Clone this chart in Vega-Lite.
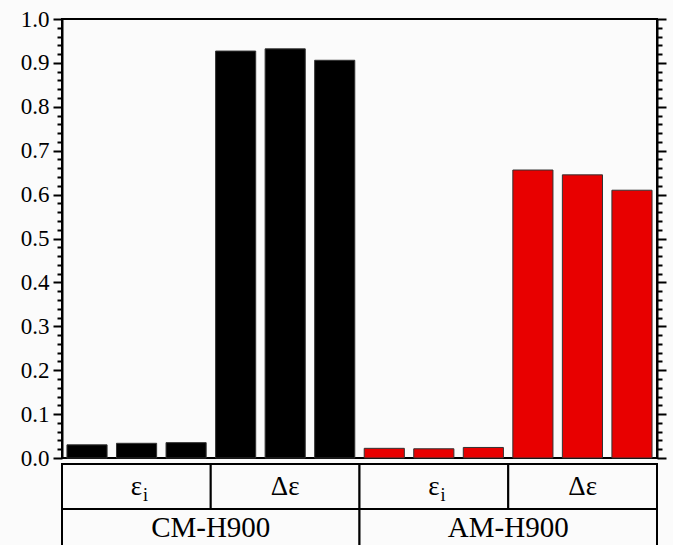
{
  "$schema": "https://vega.github.io/schema/vega-lite/v6.json",
  "background": "#fbfbfb",
  "padding": {"left": 19, "top": 7, "right": 6, "bottom": 0},
  "datasets": {
    "bars": [
      {"id": 1, "sample": "CM-H900", "param": "εi", "value": 0.030},
      {"id": 2, "sample": "CM-H900", "param": "εi", "value": 0.0335},
      {"id": 3, "sample": "CM-H900", "param": "εi", "value": 0.035},
      {"id": 4, "sample": "CM-H900", "param": "Δε", "value": 0.927},
      {"id": 5, "sample": "CM-H900", "param": "Δε", "value": 0.932},
      {"id": 6, "sample": "CM-H900", "param": "Δε", "value": 0.906},
      {"id": 7, "sample": "AM-H900", "param": "εi", "value": 0.022},
      {"id": 8, "sample": "AM-H900", "param": "εi", "value": 0.021},
      {"id": 9, "sample": "AM-H900", "param": "εi", "value": 0.024},
      {"id": 10, "sample": "AM-H900", "param": "Δε", "value": 0.656},
      {"id": 11, "sample": "AM-H900", "param": "Δε", "value": 0.645},
      {"id": 12, "sample": "AM-H900", "param": "Δε", "value": 0.610}
    ],
    "cells": [
      {"cell": 1, "main": "ε", "sub": "i"},
      {"cell": 2, "main": "Δε", "sub": ""},
      {"cell": 3, "main": "ε", "sub": "i"},
      {"cell": 4, "main": "Δε", "sub": ""}
    ],
    "groups": [
      {"grp": 1, "label": "CM-H900"},
      {"grp": 2, "label": "AM-H900"}
    ]
  },
  "spacing": 6,
  "bounds": "flush",
  "vconcat": [
    {
      "width": 595,
      "height": 439,
      "data": {"name": "bars"},
      "view": {"stroke": "black", "strokeWidth": 2},
      "layer": [
        {
          "mark": {"type": "bar", "stroke": "#333333", "strokeWidth": 1},
          "encoding": {
            "x": {"field": "id", "type": "ordinal", "axis": null, "scale": {"paddingInner": 0.19, "paddingOuter": 0.1}},
            "y": {
              "field": "value", "type": "quantitative",
              "scale": {"domain": [0, 1], "nice": false},
              "axis": {
                "orient": "left",
                "values": [0,0.02,0.04,0.06,0.08,0.1,0.12,0.14,0.16,0.18,0.2,0.22,0.24,0.26,0.28,0.3,0.32,0.34,0.36,0.38,0.4,0.42,0.44,0.46,0.48,0.5,0.52,0.54,0.56,0.58,0.6,0.62,0.64,0.66,0.68,0.7,0.72,0.74,0.76,0.78,0.8,0.82,0.84,0.86,0.88,0.9,0.92,0.94,0.96,0.98,1],
                "labelExpr": "abs(datum.value*10-round(datum.value*10))<0.001 ? format(datum.value,'.1f') : ''",
                "tickSize": {"condition": {"test": "abs(datum.value*10-round(datum.value*10))<0.001", "value": 9}, "value": 5},
                "labelFont": "Liberation Serif", "labelFontSize": 23, "labelColor": "black", "labelPadding": 4,
                "labelOverlap": false,
                "domainColor": "black", "domainWidth": 2, "tickColor": "black", "tickWidth": 2,
                "grid": false, "title": null
              }
            },
            "color": {"field": "sample", "type": "nominal", "scale": {"domain": ["CM-H900", "AM-H900"], "range": ["#000000", "#e80000"]}, "legend": null}
          }
        },
        {
          "mark": {"type": "tick", "opacity": 0},
          "encoding": {
            "x": {"field": "id", "type": "ordinal", "axis": null},
            "y": {
              "field": "value", "type": "quantitative",
              "axis": {
                "orient": "right",
                "values": [0,0.02,0.04,0.06,0.08,0.1,0.12,0.14,0.16,0.18,0.2,0.22,0.24,0.26,0.28,0.3,0.32,0.34,0.36,0.38,0.4,0.42,0.44,0.46,0.48,0.5,0.52,0.54,0.56,0.58,0.6,0.62,0.64,0.66,0.68,0.7,0.72,0.74,0.76,0.78,0.8,0.82,0.84,0.86,0.88,0.9,0.92,0.94,0.96,0.98,1],
                "labels": false,
                "tickSize": {"condition": {"test": "abs(datum.value*10-round(datum.value*10))<0.001", "value": 9}, "value": 5},
                "domainColor": "black", "domainWidth": 2, "tickColor": "black", "tickWidth": 2,
                "grid": false, "title": null
              }
            }
          }
        }
      ],
      "resolve": {"axis": {"y": "independent"}}
    },
    {
      "spacing": 0,
      "bounds": "flush",
      "vconcat": [
        {
          "width": 595,
          "height": 45,
          "data": {"name": "cells"},
          "layer": [
            {
              "mark": {"type": "rect", "fill": "#fbfbfb", "stroke": "black", "strokeWidth": 2},
              "encoding": {"x": {"field": "cell", "type": "ordinal", "axis": null, "scale": {"paddingInner": 0, "paddingOuter": 0}}}
            },
            {
              "mark": {"type": "text", "font": "Liberation Serif", "fontSize": 27, "baseline": "middle", "color": "black", "dy": 0},
              "encoding": {"x": {"field": "cell", "type": "ordinal"}, "text": {"field": "main"}}
            },
            {
              "mark": {"type": "text", "font": "Liberation Serif", "fontSize": 18, "baseline": "middle", "color": "black", "dx": 9, "dy": 9},
              "encoding": {"x": {"field": "cell", "type": "ordinal"}, "text": {"field": "sub"}}
            }
          ]
        },
        {
          "width": 595,
          "height": 45,
          "data": {"name": "groups"},
          "layer": [
            {
              "mark": {"type": "rect", "fill": "#fbfbfb", "stroke": "black", "strokeWidth": 2},
              "encoding": {"x": {"field": "grp", "type": "ordinal", "axis": null, "scale": {"paddingInner": 0, "paddingOuter": 0}}}
            },
            {
              "mark": {"type": "text", "font": "Liberation Serif", "fontSize": 29, "baseline": "middle", "color": "black", "dy": -4},
              "encoding": {"x": {"field": "grp", "type": "ordinal"}, "text": {"field": "label"}}
            }
          ]
        }
      ]
    }
  ],
  "config": {
    "view": {"stroke": null},
    "font": "Liberation Serif",
    "axis": {"labelFont": "Liberation Serif"},
    "text": {"font": "Liberation Serif"}
  }
}
